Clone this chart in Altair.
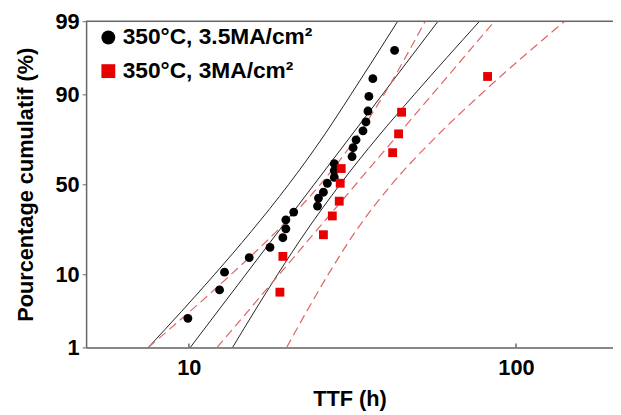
import altair as alt
import pandas as pd
from statistics import NormalDist

SERIES = ["350°C, 3.5MA/cm²", "350°C, 3MA/cm²"]

# Series 1 (black circles): TTF (h) and cumulative percentage
ttf_a = [9.93, 12.41, 12.85, 15.29, 17.70, 19.38, 19.79, 19.79, 20.92, 24.73,
         24.90, 25.78, 26.50, 27.83, 27.83, 27.83, 31.54, 31.77, 32.44, 34.06,
         34.78, 35.27, 35.51, 36.51, 42.56]
pct_a = [2.8, 6.6, 10.5, 14.8, 18.4, 22.3, 26.3, 30.6, 34.6, 37.8,
         42.2, 45.5, 50.6, 53.9, 57.8, 61.6, 65.4, 69.9, 73.7, 77.7,
         81.3, 85.2, 89.5, 93.4, 97.2]

# Series 2 (red squares)
ttf_b = [18.98, 19.38, 25.78, 27.45, 28.82, 29.02, 29.22, 41.97, 43.77, 44.69, 81.88]
pct_b = [6.2, 15.2, 23.6, 32.6, 40.5, 50.6, 58.9, 67.4, 76.4, 84.8, 93.8]

# Fit lines and confidence bounds (TTF read at given percentages)
fit_pct = [1, 99]
fit_a = [10.1, 57.8]
fit_b = [12.2, 86.0]
curve_pct = [1, 10, 25, 50, 75, 90, 99]
low_a = [7.52, 12.0, 15.5, 20.2, 25.7, 31.3, 43.5]
high_a = [13.6, 18.7, 22.8, 29.0, 37.8, 48.9, 77.4]
low_b = [7.52, 13.49, 18.5, 25.25, 32.6, 39.5, 52.8]
high_b = [19.9, 26.7, 32.3, 41.7, 56.9, 78.0, 140.9]

y_ticks_pct = [1, 10, 50, 90, 99]
x_ticks = [10, 100]

W, H = 533, 330
nd = NormalDist()
zlo, zhi = nd.inv_cdf(0.01), nd.inv_cdf(0.99)
y_tick_z = [nd.inv_cdf(p / 100) for p in y_ticks_pct]

pts = pd.DataFrame({
    "t": ttf_a + ttf_b,
    "pct": pct_a + pct_b,
    "serie": [SERIES[0]] * len(ttf_a) + [SERIES[1]] * len(ttf_b),
})

def curves(entries):
    rows = []
    for name, ts, ps in entries:
        for t, p in zip(ts, ps):
            rows.append({"curve": name, "t": t, "pct": p})
    return pd.DataFrame(rows)

lines_a = curves([("fit", fit_a, fit_pct), ("low", low_a, curve_pct), ("high", high_a, curve_pct)])
lines_b = curves([("fit", fit_b, fit_pct), ("low", low_b, curve_pct), ("high", high_b, curve_pct)])

AX = "#666666"
FONT = "Liberation Sans"

xenc = alt.X("t:Q",
             scale=alt.Scale(type="log", domain=[4.85, 198], nice=False),
             axis=alt.Axis(values=x_ticks, format="d", ticks=False, grid=False,
                           title="TTF (h)", labelFontSize=22, labelFontWeight="bold",
                           titleFontSize=22, titleFontWeight="bold", labelPadding=10,
                           titlePadding=11, domainColor=AX, domainWidth=1.5,
                           labelColor="black", titleColor="black"))
yenc = alt.Y("z:Q",
             scale=alt.Scale(domain=[zlo, zhi], nice=False, zero=False),
             axis=alt.Axis(values=y_tick_z,
                           labelExpr="format(cumulativeNormal(datum.value)*100, '.0f')",
                           grid=False, title="Pourcentage cumulatif (%)",
                           labelFontSize=22, labelFontWeight="bold",
                           titleFontSize=22, titleFontWeight="bold",
                           tickSize=4, tickColor=AX, labelPadding=3, titlePadding=18,
                           domainColor=AX, domainWidth=1.5,
                           labelColor="black", titleColor="black"))

calc = "quantileNormal(datum.pct / 100)"

black_lines = alt.Chart(lines_a).transform_calculate(z=calc).mark_line(
    clip=True, interpolate="monotone", strokeWidth=1, color="#222222"
).encode(x=xenc, y=yenc, detail="curve:N", order="pct:Q")

red_lines = alt.Chart(lines_b).transform_calculate(z=calc).mark_line(
    clip=True, interpolate="monotone", strokeWidth=1.2, color="#e06565",
    strokeDash=[9, 5]
).encode(x=xenc, y=yenc, detail="curve:N", order="pct:Q")

points = alt.Chart(pts).transform_calculate(z=calc).mark_point(
    filled=True, size=80, opacity=1, strokeWidth=0
).encode(
    x=xenc, y=yenc,
    color=alt.Color("serie:N", scale=alt.Scale(domain=SERIES, range=["black", "#e60000"]),
                    legend=alt.Legend(title=None)),
    shape=alt.Shape("serie:N", scale=alt.Scale(domain=SERIES, range=["circle", "square"]),
                    legend=alt.Legend(title=None)),
)

xt = alt.Chart(pd.DataFrame({"t": x_ticks})).mark_rule(color=AX, strokeWidth=1.5).encode(
    x=alt.X("t:Q"), y=alt.value(H), y2=alt.value(H - 4))

top = alt.Chart(pd.DataFrame({"a": [0]})).mark_rule(color=AX, strokeWidth=1.5).encode(
    x=alt.value(0), x2=alt.value(W), y=alt.value(0))

chart = alt.layer(black_lines, red_lines, xt, top, points).properties(
    width=W, height=H,
    autosize=alt.AutoSizeParams(type="none"),
    padding={"left": 79, "top": 11, "right": 0, "bottom": 65},
).configure_view(stroke=None).configure(font=FONT).configure_legend(
    orient="none", legendX=11, legendY=5, labelFontSize=23, labelFont=FONT,
    labelFontWeight="bold", symbolSize=196, rowPadding=10, labelOffset=3,
    padding=0, symbolStrokeWidth=0, labelColor="black", labelLimit=400
)

chart.save("out.html", embed_options={"renderer": "svg", "actions": False})
